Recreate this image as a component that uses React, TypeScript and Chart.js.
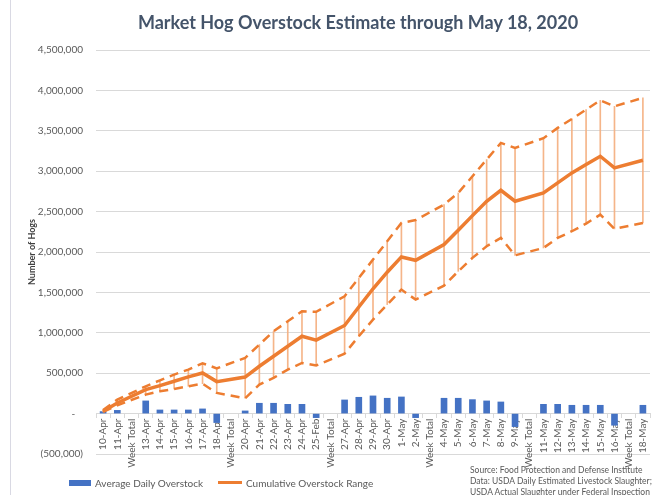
import { useEffect, useRef } from 'react';
import { Chart, registerables } from 'chart.js';

Chart.register(...registerables);

const categories = [
  '10-Apr', '11-Apr', 'Week Total', '13-Apr', '14-Apr', '15-Apr', '16-Apr', '17-Apr', '18-Apr', 'Week Total',
  '20-Apr', '21-Apr', '22-Apr', '23-Apr', '24-Apr', '25-Feb', 'Week Total', '27-Apr', '28-Apr', '29-Apr',
  '30-Apr', '1-May', '2-May', 'Week Total', '4-May', '5-May', '6-May', '7-May', '8-May', '9-May',
  'Week Total', '11-May', '12-May', '13-May', '14-May', '15-May', '16-May', 'Week Total', '18-May',
];

const dailyOverstock = [
  25000, 40000, null, 157000, 45000, 45000, 45000, 58000, -111000, null,
  33000, 128000, 128000, 115000, 115000, -50000, null, 169000, 202000, 219000,
  190000, 206000, -50000, null, 190000, 190000, 173000, 157000, 144000, -161000,
  null, 115000, 115000, 103000, 103000, 103000, -144000, null, 103000,
];

const cumulativeMid = [
  30000, 132000, null, 297000, 346000, 400000, 454000, 503000, 396000, null,
  452000, 586000, 710000, 833000, 957000, 910000, null, 1091000, 1320000, 1545000,
  1750000, 1939000, 1897000, null, 2092000, 2269000, 2450000, 2628000, 2764000, 2628000,
  null, 2731000, 2855000, 2979000, 3082000, 3185000, 3041000, null, 3135000,
];

const cumulativeHigh = [
  45000, 173000, null, 338000, 412000, 483000, 545000, 623000, 560000, null,
  689000, 854000, 1019000, 1142000, 1266000, 1260000, null, 1452000, 1679000, 1906000,
  2133000, 2360000, 2395000, null, 2587000, 2731000, 2937000, 3144000, 3350000, 3288000,
  null, 3408000, 3536000, 3647000, 3762000, 3877000, 3803000, null, 3907000,
];

const cumulativeLow = [
  20000, 103000, null, 235000, 276000, 305000, 338000, 370000, 256000, null,
  190000, 359000, 442000, 545000, 627000, 595000, null, 742000, 957000, 1163000,
  1349000, 1535000, 1411000, null, 1584000, 1761000, 1927000, 2071000, 2174000, 1959000,
  null, 2050000, 2174000, 2257000, 2351000, 2463000, 2286000, null, 2360000,
];

const FONT = 'Lato, "Liberation Sans", sans-serif';
const BLUE = '#4472C4';
const ORANGE = '#ED7D31';
const LIGHT_ORANGE = 'rgba(244,177,131,0.95)';
const GRID = '#D9D9D9';
const TEXT = '#595959';

export default function App() {
  const ref = useRef<HTMLCanvasElement>(null);

  useEffect(() => {
    const hiLo = categories.map((_, i) =>
      cumulativeHigh[i] == null || cumulativeLow[i] == null ? null : [cumulativeLow[i], cumulativeHigh[i]]
    );
    const chart = new Chart(ref.current as HTMLCanvasElement, {
      type: 'bar',
      data: {
        labels: categories,
        datasets: [
          {
            type: 'line',
            label: 'Cumulative Overstock Range',
            data: cumulativeMid as any,
            borderColor: ORANGE,
            borderWidth: 3.5,
            pointRadius: 0,
            spanGaps: true,
            order: 1,
          } as any,
          {
            type: 'line',
            label: 'High',
            data: cumulativeHigh as any,
            borderColor: ORANGE,
            borderWidth: 2.5,
            borderDash: [9, 6],
            pointRadius: 0,
            spanGaps: true,
            order: 2,
          } as any,
          {
            type: 'line',
            label: 'Low',
            data: cumulativeLow as any,
            borderColor: ORANGE,
            borderWidth: 2.5,
            borderDash: [9, 6],
            pointRadius: 0,
            spanGaps: true,
            order: 2,
          } as any,
          {
            type: 'bar',
            label: 'HiLo',
            data: hiLo as any,
            backgroundColor: LIGHT_ORANGE,
            barThickness: 1,
            grouped: false,
            order: 3,
          } as any,
          {
            type: 'bar',
            label: 'Average Daily Overstock',
            data: dailyOverstock as any,
            backgroundColor: BLUE,
            barThickness: 6,
            grouped: false,
            order: 4,
          } as any,
        ],
      },
      options: {
        responsive: false,
        animation: false,
        layout: { padding: { left: 0, right: 7, top: 50, bottom: 41 } },
        plugins: {
          legend: { display: false },
          title: { display: false },
          tooltip: { enabled: false },
        },
        scales: {
          x: {
            position: { y: 0 } as any,
            offset: true,
            grid: { drawOnChartArea: false, drawTicks: true, tickLength: 4, color: GRID, offset: true },
            border: { display: true, color: GRID },
            ticks: {
              autoSkip: false,
              maxRotation: 90,
              minRotation: 90,
              padding: 1,
              color: TEXT,
              font: { family: FONT, size: 10 },
            },
            afterFit: (s: any) => {
              s.height = 0;
            },
          },
          y: {
            min: -500000,
            max: 4500000,
            grid: { color: GRID, drawTicks: false },
            border: { display: false },
            ticks: {
              stepSize: 500000,
              padding: 13,
              color: TEXT,
              font: { family: FONT, size: 10 },
              callback: (v: any) => {
                const n = Number(v);
                if (n === 0) return '-   ';
                if (n < 0) return '(' + Math.abs(n).toLocaleString('en-US') + ')';
                return n.toLocaleString('en-US');
              },
            },
            title: {
              display: true,
              text: 'Number of Hogs',
              color: '#404040',
              font: { family: FONT, size: 9, weight: 'bold' },
              padding: { top: 27, bottom: 0 },
            },
            afterFit: (s: any) => {
              s.width = 96;
            },
          },
        },
      },
    });
    return () => chart.destroy();
  }, []);

  return (
    <div style={{ position: 'fixed', left: 0, top: 0, width: 657, height: 495, background: '#fff', overflow: 'hidden', fontFamily: FONT }}>
      <div style={{ position: 'absolute', left: 10, top: 0, width: 1, height: 495, background: '#D9D9E3' }} />
      <canvas ref={ref} width={657} height={495} style={{ position: 'absolute', left: 0, top: 0 }} />
      <div style={{ position: 'absolute', left: 58, top: 11, width: 600, textAlign: 'center', fontSize: 18, fontWeight: 700, color: '#44546A', whiteSpace: 'nowrap', lineHeight: '22px' }}>
        Market Hog Overstock Estimate through May 18, 2020
      </div>
      <div style={{ position: 'absolute', left: 69, top: 480, width: 22, height: 6, background: BLUE }} />
      <div style={{ position: 'absolute', left: 95, top: 477, fontSize: 10, lineHeight: '12px', color: TEXT, whiteSpace: 'nowrap' }}>
        Average Daily Overstock
      </div>
      <div style={{ position: 'absolute', left: 218, top: 481, width: 24, height: 3, background: ORANGE }} />
      <div style={{ position: 'absolute', left: 246, top: 477, fontSize: 10, lineHeight: '12px', color: TEXT, whiteSpace: 'nowrap' }}>
        Cumulative Overstock Range
      </div>
      <div style={{ position: 'absolute', left: 470, top: 465, fontSize: 8.5, lineHeight: '11px', color: TEXT, whiteSpace: 'nowrap' }}>
        <div>Source: Food Protection and Defense Institute</div>
        <div>Data: USDA Daily Estimated Livestock Slaughter;</div>
        <div>USDA Actual Slaughter under Federal Inspection</div>
      </div>
    </div>
  );
}
